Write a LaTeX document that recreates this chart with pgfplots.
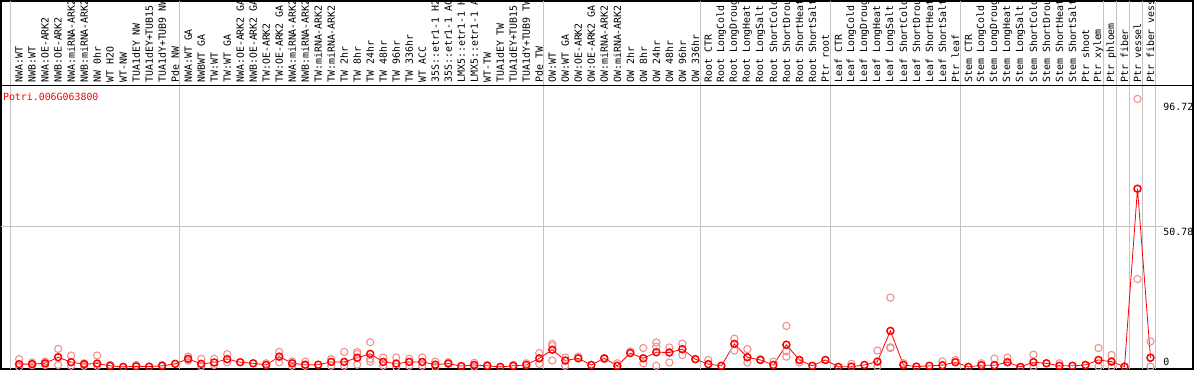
\documentclass[border=0pt]{standalone}
\usepackage{pgfplots}
\pgfplotsset{compat=1.18}
\usepackage{fontspec}
\newfontfamily\monofont{DejaVu Sans Mono}
\definecolor{gridgray}{RGB}{195,195,195}
\definecolor{reppink}{RGB}{238,145,145}
\definecolor{meanred}{RGB}{255,0,0}
\tikzset{lab/.style={rotate=90, anchor=west, inner sep=0pt, font=\monofont\fontsize{9.9}{10}\selectfont, text=black},
  tl/.style={anchor=west, inner sep=0pt, font=\monofont\fontsize{9.9}{10}\selectfont}}
\begin{document}
\begin{tikzpicture}
\begin{axis}[
  scale only axis, width=1192pt, height=368pt,
  xmin=-0.4077, xmax=91.285, ymin=-0.722, ymax=132.13,
  axis line style={line width=1.6pt, black},
  xtick=\empty, ytick=\empty,
  extra x ticks={0.36,13.36,41.36,53.36,63.36,73.36,84.36,85.36,86.36,87.36,88.36},
  extra x tick labels={},
  extra x tick style={grid=major, major tick length=0pt},
  major grid style={gridgray, line width=1pt},
  clip=false,
]
\draw[gridgray, line width=1pt] (axis cs:-0.4077,50.78) -- (axis cs:88.98,50.78);
\draw[black, line width=1.3pt] (axis cs:-0.4077,101.6) -- (axis cs:91.285,101.6);

% replicates
\addplot[only marks, mark=o, mark size=3.6pt, color=reppink, mark options={line width=1.1pt}] coordinates {
(1,2.8)(1,0.0)(2,1.6)(2,0.6)(3,1.9)(3,0.7)(4,6.5)(4,0.7)(5,4.1)(5,0.4)(6,1.3)(6,0.4)(7,4.1)(7,0.4)
(8,0.7)(10,0.7)(12,0.7)(14,3.7)(14,2.3)(15,2.9)(15,0.2)(16,2.9)(16,0.7)(17,4.6)(17,1.7)(20,1.3)
(21,5.4)(21,1.7)(22,2.0)(22,0.4)(23,1.9)(23,0.4)(25,2.8)(25,0.4)(26,5.4)(26,0.4)(27,5.4)(27,4.7)(27,0.8)
(28,8.9)(28,2.9)(28,1.9)(29,3.4)(29,0.4)(30,3.4)(30,0.0)(31,2.9)(31,0.4)(32,3.4)(32,0.4)(33,1.9)(33,0.0)
(34,1.7)(36,1.5)(36,0.0)(37,0.7)(39,0.7)(40,1.3)(41,5.0)(41,1.1)(42,8.3)(42,7.6)(42,2.3)(43,3.4)(43,0.4)
(44,3.7)(46,2.8)(47,1.3)(48,5.6)(49,6.8)(49,1.3)(50,8.8)(50,7.3)(50,0.4)(51,7.0)(51,1.6)(52,8.4)(52,4.3)
(54,2.5)(56,10.2)(56,5.9)(57,6.4)(57,1.6)(58,2.8)(59,1.9)(60,14.8)(60,5.6)(60,3.7)(61,1.6)(65,1.1)
(67,5.9)(67,0.1)(68,25.0)(68,7.1)(68,6.8)(69,1.3)(72,2.0)(73,2.5)(75,1.3)(76,3.0)(77,3.4)(79,4.4)(79,0.1)
(81,1.3)(84,6.8)(84,0.1)(85,4.3)(85,0.1)(87,96.72)(87,31.7)(88,9.2)(88,0.1)
};
% means
\addplot[meanred, line width=0.8pt, mark=o, mark size=3.5pt, mark options={line width=1.5pt}] coordinates {
(1,1.0)(2,1.0)(3,1.3)(4,3.5)(5,1.7)(6,1.0)(7,1.2)(8,0.4)(9,0.0)(10,0.2)(11,0.1)(12,0.4)(13,1.1)
(14,2.9)(15,1.1)(16,1.6)(17,2.8)(18,1.7)(19,1.3)(20,0.7)(21,3.7)(22,1.3)(23,0.8)(24,0.8)(25,1.8)
(26,1.8)(27,3.3)(28,4.7)(29,1.8)(30,1.2)(31,1.8)(32,1.8)(33,0.8)(34,1.2)(35,0.3)(36,0.7)(37,0.4)
(38,0.0)(39,0.4)(40,0.7)(41,3.1)(42,6.2)(43,2.3)(44,3.1)(45,0.7)(46,3.1)(47,0.4)(48,5.0)(49,3.1)
(50,5.3)(51,5.2)(52,6.4)(53,2.8)(54,1.0)(55,0.4)(56,8.3)(57,3.5)(58,2.5)(59,0.7)(60,8.0)(61,2.5)
(62,0.4)(63,2.5)(64,0.0)(65,0.1)(66,0.7)(67,1.9)(68,13.0)(69,0.7)(70,0.1)(71,0.4)(72,0.6)(73,1.7)
(74,0.0)(75,0.6)(76,0.6)(77,1.7)(78,0.0)(79,1.7)(80,1.3)(81,0.4)(82,0.4)(83,0.7)(84,2.5)(85,1.9)
(86,0.1)(87,64.3)(88,3.3)
};

\foreach \i/\t in {1/NWA:WT,2/NWB:WT,3/NWA:OE-ARK2,4/NWB:OE-ARK2,5/NWA:miRNA-ARK2,6/NWB:miRNA-ARK2,
7/NW 0hr,8/WT H2O,9/WT-NW,10/TUA1dEY NW,11/TUA1dEY+TUB15,12/TUA1dY+TUB9 NW,13/Pde NW,
14/NWA:WT GA,15/NWBWT GA,16/TW:WT,17/TW:WT GA,18/NWA:OE-ARK2 GA,19/NWB:OE-ARK2 GA,20/TW:OE-ARK2,
21/TW:OE-ARK2 GA,22/NWA:miRNA-ARK2,23/NWB:miRNA-ARK2,24/TW:miRNA-ARK2,25/TW:miRNA-ARK2,
26/TW 2hr,27/TW 8hr,28/TW 24hr,29/TW 48hr,30/TW 96hr,31/TW 336hr,32/WT ACC,33/35S::etr1-1 H2,
34/35S::etr1-1 AC,35/LMX5::etr1-1 H,36/LMX5::etr1-1 A,37/WT-TW,38/TUA1dEY TW,39/TUA1dEY+TUB15,
40/TUA1dY+TUB9 TW,41/Pde TW,42/OW:WT,43/OW:WT GA,44/OW:OE-ARK2,45/OW:OE-ARK2 GA,46/OW:miRNA-ARK2,
47/OW:miRNA-ARK2,48/OW 2hr,49/OW 8hr,50/OW 24hr,51/OW 48hr,52/OW 96hr,53/OW 336hr,
54/Root CTR,55/Root LongCold,56/Root LongDroug,57/Root LongHeat,58/Root LongSalt,59/Root ShortCold,
60/Root ShortDrou,61/Root ShortHeat,62/Root ShortSalt,63/Ptr root,
64/Leaf CTR,65/Leaf LongCold,66/Leaf LongDroug,67/Leaf LongHeat,68/Leaf LongSalt,69/Leaf ShortCold,
70/Leaf ShortDrou,71/Leaf ShortHeat,72/Leaf ShortSalt,73/Ptr leaf,
74/Stem CTR,75/Stem LongCold,76/Stem LongDroug,77/Stem LongHeat,78/Stem LongSalt,79/Stem ShortCold,
80/Stem ShortDrou,81/Stem ShortHeat,82/Stem ShortSalt,83/Ptr shoot,
84/Ptr xylem,85/Ptr phloem,86/Ptr fiber,87/Ptr vessel,88/Ptr fiber vess}{
  \edef\tmp{\noexpand\node[lab] at (axis cs:\i,102.5) {\t};}\tmp
}

\node[tl, text=meanred] at (axis cs:-0.25,97.5) {Potri.006G063800};
\node[tl] at (axis cs:88.98,93.86) {96.72};
\node[tl] at (axis cs:88.98,48.74) {50.78};
\node[tl] at (axis cs:88.98,1.81) {0};
\end{axis}
\pgfresetboundingbox
\path[use as bounding box] ([shift={(-0.8pt,-0.8pt)}]current axis.south west) rectangle ([shift={(0.8pt,0.8pt)}]current axis.north east);
\end{tikzpicture}
\end{document}
